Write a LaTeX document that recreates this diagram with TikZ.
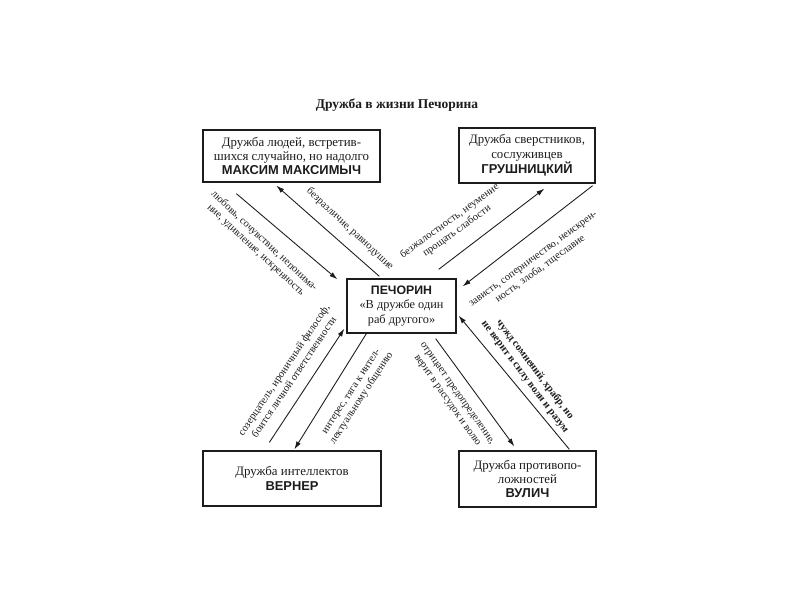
\documentclass[tikz,border=0pt]{standalone}
\usepackage{fontspec}
\setmainfont{Liberation Serif}
\newfontfamily\fuenteNombre{Liberation Sans}
\usetikzlibrary{arrows.meta, calc}
\definecolor{tinta}{HTML}{1C1C1C}
\colorlet{colBorde}{tinta}
\colorlet{colTexto}{tinta}
\newcommand{\nombre}[1]{{\fuenteNombre\bfseries #1}}
\tikzset{
  cajaBase/.style={
    draw=colBorde, line width=1.1pt,
    align=center, font=\fontsize{11}{12.3}\selectfont, text=colTexto,
    fill=white, inner sep=2pt
  },
  cajaCentro/.style={cajaBase, font=\fontsize{10.5}{12.3}\selectfont},
  flecha/.style={-{Latex[length=2.4mm, width=1.5mm]}, line width=0.75pt, colBorde},
  etiquetaFlecha/.style={font=\fontsize{9}{10.5}\selectfont, text=colTexto,
    align=center, inner sep=0pt},
  tituloDiagrama/.style={font=\bfseries\fontsize{11.5}{13}\selectfont, text=colTexto},
}

\begin{document}
\begin{tikzpicture}
    \useasboundingbox[fill=white] (0,0) rectangle (24,-18);

    \node[tituloDiagrama] (titulo) at (11.91,-3.15) {Дружба в жизни Печорина};

    % cajas
    \node[cajaBase, minimum width=5.31cm, minimum height=1.56cm] (maksim) at (8.745,-4.68)
      {Дружба людей, встретив-\\шихся случайно, но надолго\\\nombre{МАКСИМ МАКСИМЫЧ}};
    \node[cajaBase, minimum width=4.08cm, minimum height=1.65cm] (grushnitsky) at (15.81,-4.665)
      {Дружба сверстников,\\сослуживцев\\\nombre{ГРУШНИЦКИЙ}};
    \node[cajaCentro, minimum width=3.27cm, minimum height=1.62cm] (pechorin) at (12.045,-9.18)
      {\nombre{ПЕЧОРИН}\\«В дружбе один\\раб другого»};
    \node[cajaBase, minimum width=5.34cm, minimum height=1.65cm] (verner) at (8.76,-14.355)
      {Дружба интеллектов\\\nombre{ВЕРНЕР}};
    \node[cajaBase, minimum width=4.11cm, minimum height=1.68cm] (vulich) at (15.825,-14.37)
      {Дружба противопо-\\ложностей\\\nombre{ВУЛИЧ}};

    % flechas
    \draw[flecha] ($(pechorin.north west)+(0.99,0.06)$) -- ($(maksim.south west)+(2.22,-0.09)$);
    \draw[flecha] ($(maksim.south west)+(1.02,-0.33)$) -- ($(pechorin.north west)+(-0.27,-0.03)$);
    \draw[flecha] ($(pechorin.north east)+(-0.54,0.27)$) -- ($(grushnitsky.south west)+(2.58,-0.15)$);
    \draw[flecha] ($(grushnitsky.south east)+(-0.09,-0.06)$) -- ($(pechorin.north east)+(0.18,-0.24)$);
    \draw[flecha] ($(verner.north west)+(2.01,0.24)$) -- ($(pechorin.south west)+(-0.06,0.15)$);
    \draw[flecha] ($(pechorin.south west)+(0.6,0)$) -- ($(verner.north west)+(2.76,0.03)$);
    \draw[flecha] ($(pechorin.south east)+(-0.63,-0.15)$) -- ($(vulich.north west)+(1.68,0.12)$);
    \draw[flecha] ($(vulich.north west)+(3.33,0.03)$) -- ($(pechorin.south east)+(0.06,0.54)$);

    % etiquetas
    \node[etiquetaFlecha, rotate=-43] (etqA) at (10.5,-6.87) {безразличие, равнодушие};
    \node[etiquetaFlecha, rotate=-43] (etqB) at (7.8,-7.37) {любовь, сочувствие, непонима-\\ние, удивление, искренность};
    \node[etiquetaFlecha, rotate=36] (etqC) at (13.6,-6.78) {безжалостность, неумение\\прощать слабости};
    \node[etiquetaFlecha, rotate=36] (etqD) at (16.12,-7.95) {зависть, соперничество, неискрен-\\ность, злоба, тщеславие};
    \node[etiquetaFlecha, rotate=56] (etqE) at (8.66,-11.2) {созерцатель, ироничный философ,\\боится личной ответственности};
    \node[etiquetaFlecha, rotate=57] (etqF) at (10.72,-11.86) {интерес, тяга к интел-\\лектуальному общению};
    \node[etiquetaFlecha, rotate=-55] (etqG) at (13.55,-11.92) {отрицает предопределение,\\верит в рассудок и волю};
    \node[etiquetaFlecha, rotate=-53, font=\bfseries\fontsize{9}{10.5}\selectfont] (etqH) at (15.9,-11.2) {чужд сомнений, храбр, но\\не верит в силу воли и разум};
\end{tikzpicture}
\end{document}
